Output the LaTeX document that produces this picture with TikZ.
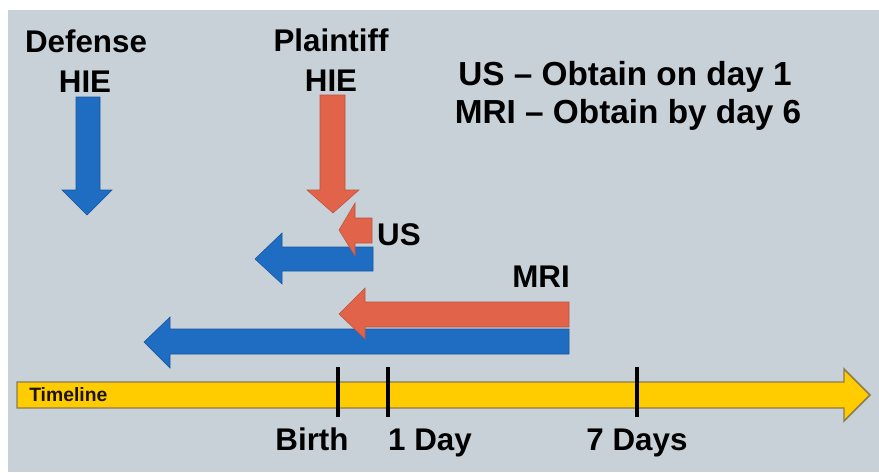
\documentclass[tikz,border=0pt]{standalone}
\usepackage{fontspec}
\setmainfont{Liberation Sans}
\definecolor{bg}{HTML}{C8D1D8}
\definecolor{ablue}{HTML}{1E6DC2}
\definecolor{ared}{HTML}{E0634A}
\definecolor{ayellow}{HTML}{FFCC00}
\definecolor{aedge}{HTML}{8C7B4E}
\tikzset{
  lbl/.style={font=\fontsize{23.5}{27}\selectfont\bfseries, text=black, inner sep=0pt, anchor=base},
  biglbl/.style={lbl, font=\fontsize{25}{29}\selectfont\bfseries},
  bluearrow/.style={fill=ablue, draw=ablue!80!black, line width=0.4pt},
  redarrow/.style={fill=ared, draw=ared!85!black, line width=0.4pt},
  tick/.style={draw=black, line width=3pt},
}
\begin{document}
\begin{tikzpicture}[x=0.75pt,y=-0.75pt]
\useasboundingbox (0,0) rectangle (879,472);
\fill[white] (0,0) rectangle (879,472);
\fill[bg] (8,10) rectangle (879,472);

% top labels
\node[lbl] (defense) at (86,52) {Defense};
\node[lbl] (defhie) at (85,92) {HIE};
\node[lbl] (plaintiff) at (331,51) {Plaintiff};
\node[lbl] (plahie) at (331,91) {HIE};
\node[biglbl] (usrule) at (625,85) {US -- Obtain on day 1};
\node[biglbl] (mrirule) at (628,123) {MRI -- Obtain by day 6};

% Defense down arrow
\draw[bluearrow] (76,97) -- (100,97) -- (100,190) -- (112,190) -- (87,215) -- (62,190) -- (76,190) -- cycle;
% Plaintiff down arrow
\draw[redarrow] (320,95) -- (345,95) -- (345,190) -- (359,190) -- (333,213) -- (307,190) -- (320,190) -- cycle;

% short blue (US) arrow
\draw[bluearrow] (373,247) -- (373,271) -- (282,271) -- (282,284) -- (255,259) -- (282,233) -- (282,247) -- cycle;
% US red arrow
\draw[redarrow] (372,218) -- (372,243) -- (355,243) -- (355,256) -- (339,230) -- (355,203) -- (355,218) -- cycle;

% long blue (MRI) arrow
\draw[bluearrow] (569,329) -- (569,354) -- (170,354) -- (170,368) -- (144,342) -- (170,317) -- (170,329) -- cycle;
% MRI red arrow
\draw[redarrow] (569,302) -- (569,327) -- (365,327) -- (365,339) -- (339,314) -- (365,288) -- (365,302) -- cycle;

\node[lbl] (us) at (399,245) {US};
\node[lbl] (mri) at (541,287) {MRI};

% timeline
\draw[fill=ayellow, draw=aedge, line width=1.1pt] (17,382) -- (844,382) -- (844,369) -- (870,395) -- (844,421) -- (844,408) -- (17,408) -- cycle;
\node[font=\fontsize{14.5}{16}\selectfont\bfseries, text=black!85!brown, inner sep=0pt, anchor=west] (timeline) at (29,395) {Timeline};

\coordinate (b1) at (338,367); \coordinate (b2) at (338,417);
\coordinate (d1) at (388,367); \coordinate (d2) at (388,417);
\coordinate (s1) at (637,367); \coordinate (s2) at (637,417);
\draw[tick] (b1) -- (b2);
\draw[tick] (d1) -- (d2);
\draw[tick] (s1) -- (s2);

\node[lbl] (birth) at (312,450) {Birth};
\node[lbl] (day1) at (430,450) {1 Day};
\node[lbl] (day7) at (637,450) {7 Days};
\end{tikzpicture}
\end{document}
